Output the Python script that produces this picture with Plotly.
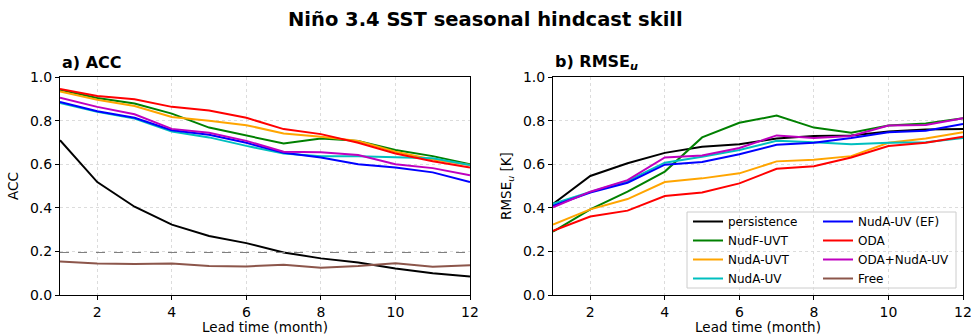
import plotly.graph_objects as go

lead = list(range(1, 13))

acc_persistence = [0.71, 0.518, 0.405, 0.323, 0.271, 0.238, 0.195, 0.168, 0.149, 0.122, 0.10, 0.085]
acc_nudf_uvt = [0.942, 0.904, 0.878, 0.832, 0.768, 0.730, 0.695, 0.718, 0.707, 0.665, 0.637, 0.600]
acc_muda_uvt = [0.934, 0.896, 0.867, 0.817, 0.799, 0.779, 0.741, 0.726, 0.707, 0.657, 0.622, 0.596]
acc_nuda_uv = [0.881, 0.840, 0.809, 0.750, 0.723, 0.684, 0.649, 0.637, 0.637, 0.631, 0.627, 0.596]
acc_nuda_uv_ef = [0.886, 0.843, 0.813, 0.756, 0.735, 0.698, 0.652, 0.631, 0.600, 0.585, 0.5625, 0.518]
acc_oda = [0.945, 0.913, 0.898, 0.863, 0.846, 0.813, 0.761, 0.738, 0.698, 0.649, 0.614, 0.585]
acc_oda_nuda_uv = [0.905, 0.863, 0.829, 0.762, 0.744, 0.707, 0.657, 0.655, 0.642, 0.600, 0.582, 0.549]
acc_free = [0.154, 0.145, 0.142, 0.145, 0.133, 0.131, 0.139, 0.125, 0.133, 0.146, 0.130, 0.137]
acc_sig_level = 0.195

rmse_persistence = [0.418, 0.546, 0.604, 0.652, 0.680, 0.692, 0.718, 0.729, 0.732, 0.750, 0.759, 0.762]
rmse_nudf_uvt = [0.291, 0.393, 0.474, 0.566, 0.723, 0.790, 0.823, 0.768, 0.744, 0.777, 0.787, 0.811]
rmse_nuda_uvt = [0.323, 0.393, 0.440, 0.518, 0.535, 0.558, 0.613, 0.620, 0.637, 0.698, 0.718, 0.747]
rmse_nuda_uv = [0.418, 0.473, 0.523, 0.607, 0.634, 0.665, 0.707, 0.701, 0.691, 0.698, 0.701, 0.720]
rmse_nuda_uv_ef = [0.409, 0.470, 0.515, 0.598, 0.610, 0.646, 0.689, 0.698, 0.720, 0.747, 0.753, 0.784]
rmse_oda = [0.294, 0.360, 0.387, 0.454, 0.470, 0.512, 0.579, 0.591, 0.631, 0.683, 0.698, 0.726]
rmse_oda_nuda_uv = [0.402, 0.474, 0.527, 0.631, 0.640, 0.674, 0.732, 0.720, 0.729, 0.777, 0.780, 0.811]

names = ["persistence", "NudF-UVT", "NudA-UVT", "NudA-UV", "NudA-UV (EF)", "ODA", "ODA+NudA-UV", "Free"]
colors = ["#000000", "#008000", "#FFA500", "#00BFBF", "#0000FF", "#FF0000", "#BF00BF", "#8c564b"]
acc_series = [acc_persistence, acc_nudf_uvt, acc_muda_uvt, acc_nuda_uv, acc_nuda_uv_ef, acc_oda, acc_oda_nuda_uv, acc_free]
rmse_series = [rmse_persistence, rmse_nudf_uvt, rmse_nuda_uvt, rmse_nuda_uv, rmse_nuda_uv_ef, rmse_oda, rmse_oda_nuda_uv, None]

W, H = 971, 335
FONT = "DejaVu Sans"
ML, MR, MT, MB = 60, 8, 77, 40
PW, PH = W - ML - MR, H - MT - MB

fig = go.Figure()
for i, (nm, col, a, r) in enumerate(zip(names, colors, acc_series, rmse_series)):
    leg = "legend" if i < 4 else "legend2"
    fig.add_trace(go.Scatter(x=lead, y=a, mode="lines", name=nm, line=dict(color=col, width=2),
                             xaxis="x", yaxis="y", legend=leg, showlegend=(r is None)))
    if r is not None:
        fig.add_trace(go.Scatter(x=lead, y=r, mode="lines", name=nm, line=dict(color=col, width=2),
                                 xaxis="x2", yaxis="y2", legend=leg, showlegend=True))

fig.add_shape(type="line", xref="x", yref="y", x0=lead[0], x1=lead[-1], y0=acc_sig_level, y1=acc_sig_level,
              line=dict(color="#808080", width=1.2, dash="dash"))

# pixel -> paper (plot-area) coordinates
def px_x(p):
    return (p - ML) / PW

def px_y(p):
    return (H - MB - p) / PH

axis_common = dict(showline=True, linecolor="black", linewidth=1, mirror=True, ticks="outside",
                   ticklen=4, tickcolor="black", showgrid=True, gridcolor="#dcdcdc", griddash="dot",
                   gridwidth=1, zeroline=False, automargin=False, ticklabeloverflow="allow",
                   tickfont=dict(family=FONT, size=14, color="black"))

fig.update_layout(
    width=W, height=H, margin=dict(l=ML, r=MR, t=MT, b=MB, autoexpand=False),
    plot_bgcolor="white", paper_bgcolor="white",
    font=dict(family=FONT, color="black"),
    xaxis=dict(domain=[0, px_x(470)], range=[1, 12], tickvals=[2, 4, 6, 8, 10, 12],
               title=dict(text="Lead time (month)", font=dict(size=13.5), standoff=2), anchor="y", **axis_common),
    yaxis=dict(domain=[0, 1], range=[0, 1], tickvals=[0, 0.2, 0.4, 0.6, 0.8, 1.0], tickformat=".1f",
               title=dict(text="ACC", font=dict(size=13.5), standoff=8), anchor="x", **axis_common),
    xaxis2=dict(domain=[px_x(553), 1], range=[1, 12], tickvals=[2, 4, 6, 8, 10, 12],
                title=dict(text="Lead time (month)", font=dict(size=13.5), standoff=2), anchor="y2", **axis_common),
    yaxis2=dict(domain=[0, 1], range=[0, 1], tickvals=[0, 0.2, 0.4, 0.6, 0.8, 1.0], tickformat=".1f",
                title=dict(text="RMSE<sub><i>u</i></sub> [K]", font=dict(size=13.5), standoff=8), anchor="x2", **axis_common),
    legend=dict(x=px_x(688), y=px_y(207), xanchor="left", yanchor="top", bgcolor="rgba(0,0,0,0)",
                font=dict(family=FONT, size=12), tracegroupgap=0, itemwidth=30),
    legend2=dict(x=px_x(818), y=px_y(207), xanchor="left", yanchor="top", bgcolor="rgba(0,0,0,0)",
                 font=dict(family=FONT, size=12), tracegroupgap=0, itemwidth=30),
    showlegend=True,
)

fig.add_shape(type="rect", xref="paper", yref="paper", x0=px_x(687), x1=px_x(956), y0=px_y(288), y1=px_y(212),
              line=dict(color="#cccccc", width=1), fillcolor="rgba(255,255,255,0.8)", layer="below")

fig.add_annotation(text="<b>Niño 3.4 SST seasonal hindcast skill</b>", xref="paper", yref="paper",
                   x=px_x(W / 2), y=px_y(20), xanchor="center", yanchor="middle", showarrow=False,
                   font=dict(family=FONT, size=19.5, color="black"))
fig.add_annotation(text="<b>a) ACC</b>", xref="paper", yref="paper", x=0, y=px_y(63),
                   xanchor="left", yanchor="middle", showarrow=False, font=dict(family=FONT, size=16, color="black"))
fig.add_annotation(text="<b>b) RMSE<sub><i>u</i></sub></b>", xref="paper", yref="paper", x=px_x(553), y=px_y(63),
                   xanchor="left", yanchor="middle", showarrow=False, font=dict(family=FONT, size=16, color="black"))

fig.write_html("out.html")
